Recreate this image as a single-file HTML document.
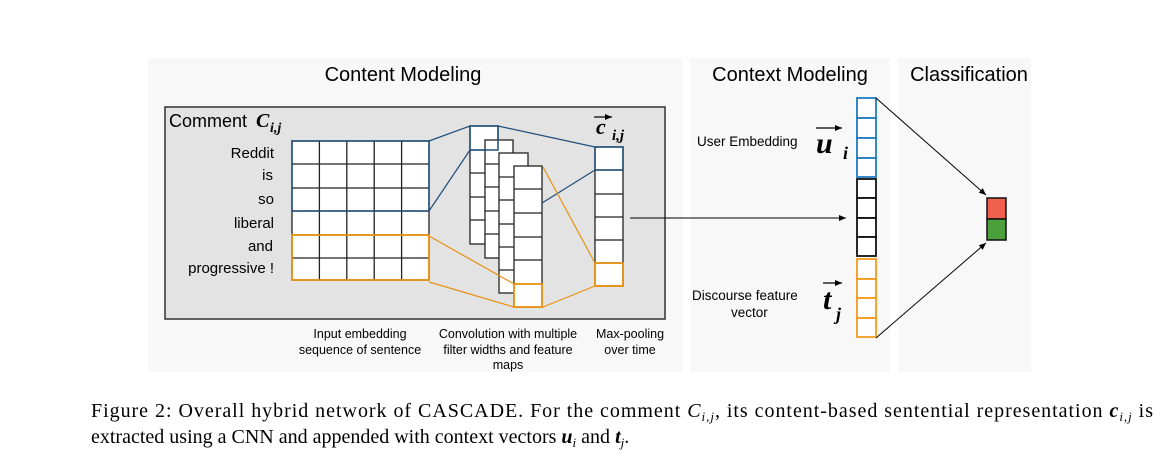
<!DOCTYPE html>
<html><head><meta charset="utf-8"><style>
html,body{margin:0;padding:0;background:#fff;}
svg{display:block;}
.s{font-family:"Liberation Sans",sans-serif;}
.m{font-family:"Liberation Serif",serif;font-style:italic;font-weight:bold;}
.c{fill:#fff;}
</style></head><body>
<svg width="1167" height="470" viewBox="0 0 1167 470" xmlns="http://www.w3.org/2000/svg">
<defs><marker id="a" markerWidth="8" markerHeight="8" refX="7" refY="4" orient="auto" markerUnits="userSpaceOnUse"><path d="M0,1 L7,4 L0,7 Z" fill="#000"/></marker></defs>
<rect x="148" y="58" width="535" height="314" fill="#f8f8f8"/>
<rect x="690" y="58" width="200" height="314" fill="#f8f8f8"/>
<rect x="898" y="58" width="133" height="314" fill="#f8f8f8"/>
<text class="s" x="403" y="81" font-size="20" text-anchor="middle">Content Modeling</text>
<text class="s" x="790" y="81" font-size="20" text-anchor="middle">Context Modeling</text>
<text class="s" x="969" y="81" font-size="20" text-anchor="middle">Classification</text>
<rect x="165" y="107" width="500" height="212" fill="#e3e3e3" stroke="#333" stroke-width="1.5"/>
<text class="s" x="169" y="127" font-size="18">Comment</text>
<text class="m" x="256" y="127" font-size="20">C</text><text class="m" x="270" y="132" font-size="14">i,j</text>
<g class="s" font-size="15" text-anchor="end">
<text x="274" y="158">Reddit</text><text x="273" y="180">is</text><text x="274" y="204">so</text>
<text x="274" y="228">liberal</text><text x="273" y="251">and</text><text x="274" y="273">progressive !</text></g>
<rect x="292" y="141" width="137" height="139" class="c"/>
<g stroke="#222" stroke-width="1.3">
<line x1="319.4" y1="141" x2="319.4" y2="280"/><line x1="346.8" y1="141" x2="346.8" y2="280"/><line x1="374.2" y1="141" x2="374.2" y2="280"/><line x1="401.6" y1="141" x2="401.6" y2="280"/>
<line x1="292" y1="164" x2="429" y2="164"/><line x1="292" y1="188" x2="429" y2="188"/><line x1="292" y1="211" x2="429" y2="211"/><line x1="292" y1="235" x2="429" y2="235"/><line x1="292" y1="258" x2="429" y2="258"/>
<rect x="292" y="141" width="137" height="139" fill="none"/></g>
<rect x="292" y="141" width="137" height="70" fill="none" stroke="#1f4e79" stroke-width="1.5"/>
<rect x="292" y="235" width="137" height="45" fill="none" stroke="#e8920f" stroke-width="1.8"/>
<g stroke="#222" stroke-width="1.3">
<rect x="470" y="126" width="28" height="118" class="c"/>
<line x1="470" y1="150" x2="498" y2="150"/><line x1="470" y1="173" x2="498" y2="173"/><line x1="470" y1="197" x2="498" y2="197"/><line x1="470" y1="220" x2="498" y2="220"/>
<rect x="485" y="140" width="28" height="118" class="c"/>
<line x1="485" y1="164" x2="513" y2="164"/><line x1="485" y1="187" x2="513" y2="187"/><line x1="485" y1="211" x2="513" y2="211"/><line x1="485" y1="234" x2="513" y2="234"/>
<rect x="499" y="153" width="29" height="140" class="c"/>
<line x1="499" y1="177" x2="528" y2="177"/><line x1="499" y1="200" x2="528" y2="200"/><line x1="499" y1="224" x2="528" y2="224"/><line x1="499" y1="247" x2="528" y2="247"/><line x1="499" y1="270" x2="528" y2="270"/>
<rect x="514" y="166" width="28" height="141" class="c"/>
<line x1="514" y1="189" x2="542" y2="189"/><line x1="514" y1="213" x2="542" y2="213"/><line x1="514" y1="237" x2="542" y2="237"/><line x1="514" y1="260" x2="542" y2="260"/>
</g>
<rect x="470" y="126" width="28" height="24" fill="none" stroke="#1f4e79" stroke-width="1.5"/>
<rect x="514" y="284" width="28" height="23" class="c" stroke="#e8920f" stroke-width="1.8"/>
<g stroke="#222" stroke-width="1.3">
<rect x="595" y="147" width="28" height="139" class="c"/>
<line x1="595" y1="170" x2="623" y2="170"/><line x1="595" y1="194" x2="623" y2="194"/><line x1="595" y1="217" x2="623" y2="217"/><line x1="595" y1="240" x2="623" y2="240"/><line x1="595" y1="263" x2="623" y2="263"/></g>
<rect x="595" y="147" width="28" height="23" fill="none" stroke="#1f4e79" stroke-width="1.5"/>
<rect x="595" y="263" width="28" height="23" fill="none" stroke="#e8920f" stroke-width="1.8"/>
<text class="m" x="596" y="134" font-size="22">c</text><text class="m" x="612" y="140" font-size="15">i,j</text>
<line x1="594" y1="117" x2="612" y2="117" stroke="#000" stroke-width="1.3" marker-end="url(#a)"/>
<g stroke="#1f4e79" stroke-width="1.2"><line x1="429" y1="141" x2="470" y2="126"/><line x1="429" y1="211" x2="470" y2="150"/><line x1="498" y1="126" x2="595" y2="147"/><line x1="542" y1="203" x2="595" y2="170"/></g>
<g stroke="#e8920f" stroke-width="1.2"><line x1="429" y1="236" x2="514" y2="284"/><line x1="429" y1="282" x2="514" y2="307"/><line x1="543" y1="167" x2="595" y2="263"/><line x1="543" y1="307" x2="595" y2="286"/></g>
<line x1="630" y1="218" x2="846" y2="218" stroke="#000" stroke-width="1" marker-end="url(#a)"/>
<g stroke-width="1.8" fill="#fff">
<g stroke="#1f7cc0"><rect x="857" y="98" width="19" height="20"/><rect x="857" y="118" width="19" height="20"/><rect x="857" y="138" width="19" height="20"/><rect x="857" y="158" width="19" height="19"/></g>
<g stroke="#111"><rect x="857" y="179" width="19" height="19"/><rect x="857" y="198" width="19" height="20"/><rect x="857" y="218" width="19" height="19"/><rect x="857" y="237" width="19" height="19"/></g>
<g stroke="#f39a1e"><rect x="857" y="259" width="19" height="20"/><rect x="857" y="279" width="19" height="19"/><rect x="857" y="298" width="19" height="20"/><rect x="857" y="318" width="19" height="19"/></g>
</g>
<text class="s" x="697" y="146" font-size="13.5">User Embedding</text>
<text class="m" x="816" y="153" font-size="30">u</text><text class="m" x="843" y="159" font-size="18">i</text>
<line x1="816" y1="128" x2="842" y2="128" stroke="#000" stroke-width="1.3" marker-end="url(#a)"/>
<text class="s" x="692" y="300" font-size="13.5">Discourse feature</text>
<text class="s" x="731" y="317" font-size="13.5">vector</text>
<text class="m" x="823" y="309" font-size="30">t</text><text class="m" x="836" y="320" font-size="18">j</text>
<line x1="823" y1="283" x2="842" y2="283" stroke="#000" stroke-width="1.3" marker-end="url(#a)"/>
<rect x="987" y="198" width="19" height="21" fill="#f0604c" stroke="#111" stroke-width="1.5"/>
<rect x="987" y="219" width="19" height="21" fill="#4ca03c" stroke="#111" stroke-width="1.5"/>
<line x1="876" y1="98" x2="986" y2="195" stroke="#000" stroke-width="1" marker-end="url(#a)"/>
<line x1="876" y1="338" x2="986" y2="243" stroke="#000" stroke-width="1" marker-end="url(#a)"/>
<g class="s" font-size="12.5" text-anchor="middle">
<text x="360" y="338">Input embedding</text><text x="360" y="354">sequence of sentence</text>
<text x="508" y="338">Convolution with multiple</text><text x="508" y="354">filter widths and feature</text><text x="508" y="369">maps</text>
<text x="630" y="338">Max-pooling</text><text x="630" y="354">over time</text></g>
<g font-family="'Liberation Serif',serif" font-size="20">
<text x="91" y="417" textLength="1062" lengthAdjust="spacing">Figure 2: Overall hybrid network of CASCADE. For the comment <tspan font-style="italic">C</tspan><tspan font-style="italic" font-size="13" dy="4">i,j</tspan><tspan dy="-4">, its content-based sentential representation </tspan><tspan font-style="italic" font-weight="bold">c</tspan><tspan font-style="italic" font-size="13" dy="4">i,j</tspan><tspan dy="-4"> is</tspan></text>
<text x="91" y="443">extracted using a CNN and appended with context vectors <tspan font-style="italic" font-weight="bold">u</tspan><tspan font-style="italic" font-size="13" dy="4">i</tspan><tspan dy="-4"> and </tspan><tspan font-style="italic" font-weight="bold">t</tspan><tspan font-style="italic" font-size="13" dy="4">j</tspan><tspan dy="-4">.</tspan></text>
</g>
</svg>
</body></html>
